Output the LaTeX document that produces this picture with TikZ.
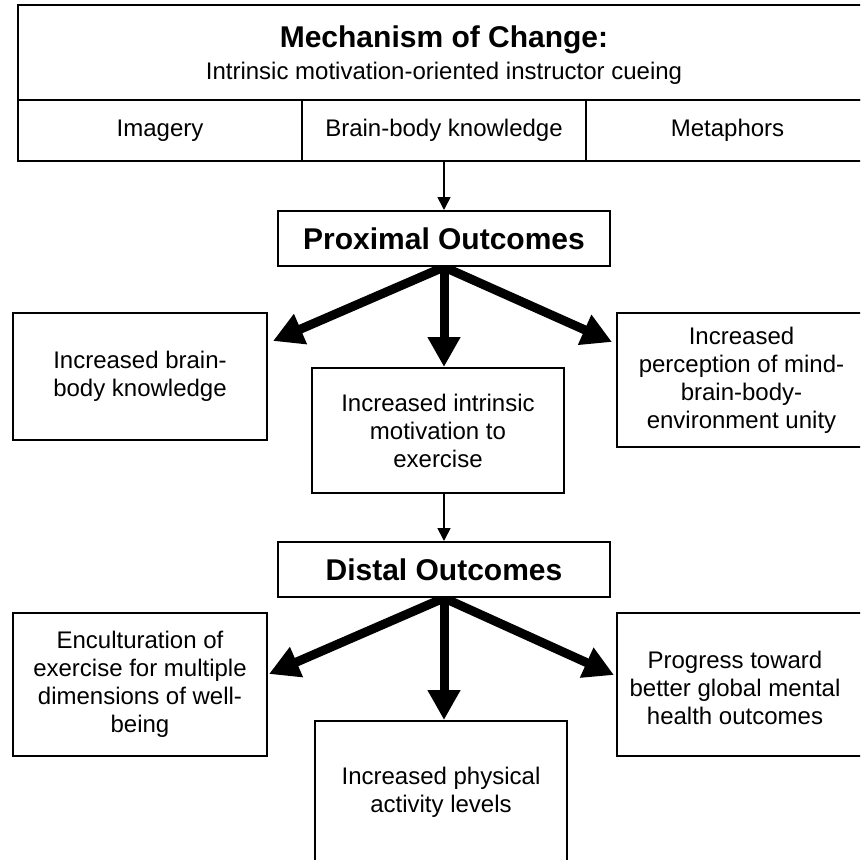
\documentclass[tikz,border=0pt]{standalone}
\usepackage{fontspec}
\setmainfont{Liberation Sans}
\usetikzlibrary{arrows.meta,calc,backgrounds}
\begin{document}
\begin{tikzpicture}[x=1pt,y=-1pt,
  box/.style={draw, line width=2pt, fill=white, inner sep=0pt, align=center,
    font=\fontsize{24}{28}\selectfont},
  bodytext/.style={align=center, inner sep=0pt, font=\fontsize{24}{28}\selectfont},
  headtext/.style={font=\bfseries\fontsize{30}{36}\selectfont},
  thinarrow/.style={line width=1.8pt, -{Triangle[width=13pt,length=13pt]}},
  thickarrow/.style={line width=9pt, -{Triangle[width=31pt,length=30pt]}}]
\useasboundingbox (0,0) rectangle (860,860);
\begin{scope}
\clip (0,0) rectangle (860,860);

% mechanism of change, with its three cueing strategies
\node[box, minimum width=851, minimum height=95] (mech) at (443.5,52.5) {};
\node[headtext, anchor=base] (title) at (444,47) {Mechanism of Change:};
\node[bodytext, anchor=base] (subtitle) at (444,79) {Intrinsic motivation-oriented instructor cueing};
\node[box, minimum width=284, minimum height=61] (imagery) at (160,130.5) {Imagery};
\node[box, minimum width=284, minimum height=61] (brain) at (444,130.5) {Brain-body knowledge};
\node[box, minimum width=283, minimum height=61] (meta) at (727.5,130.5) {Metaphors};

% proximal outcomes
\node[box, headtext, minimum width=332, minimum height=55] (prox) at (444,238.5) {Proximal Outcomes};
\node[box, minimum width=254, minimum height=127] (lprox) at (140,376.5) {Increased brain-\\body knowledge};
\node[box, minimum width=252, minimum height=125] (mprox) at (438,430.5) {Increased intrinsic\\motivation to\\exercise};
\node[box, minimum width=249, minimum height=134] (rprox) at (741.5,380) {Increased\\perception of mind-\\brain-body-\\environment unity};

% distal outcomes
\node[box, headtext, minimum width=332, minimum height=55] (dist) at (444,569.5) {Distal Outcomes};
\node[box, minimum width=254, minimum height=143] (ldist) at (140,684.5) {Enculturation of\\exercise for multiple\\dimensions of well-\\being};
\node[box, minimum width=252, minimum height=142] (bot) at (441,792) {Increased physical\\activity levels};
\node[box, minimum width=249, minimum height=143] (rdist) at (741.5,684.5) {};
\node[bodytext] (rdisttext) at (735,688) {Progress toward\\better global mental\\health outcomes};
\end{scope}

\begin{scope}[on background layer]
\fill[white] (0,0) rectangle (860,860);
\draw[thinarrow] (brain.south) -- (prox.north);
\draw[thickarrow] (prox.south) -- ($(lprox.north east)+(5,29)$);
\draw[thickarrow] (prox.south) -- (prox.south |- mprox.north);
\draw[thickarrow] (prox.south) -- ($(rprox.north west)+(-4,30)$);
\draw[thinarrow] (mprox.south -| dist.north) -- (dist.north);
\draw[thickarrow] (dist.south) -- ($(ldist.north east)+(1,62)$);
\draw[thickarrow] (dist.south) -- (dist.south |- bot.north);
\draw[thickarrow] (dist.south) -- ($(rdist.north west)+(-2,63)$);
\end{scope}
\end{tikzpicture}
\end{document}
